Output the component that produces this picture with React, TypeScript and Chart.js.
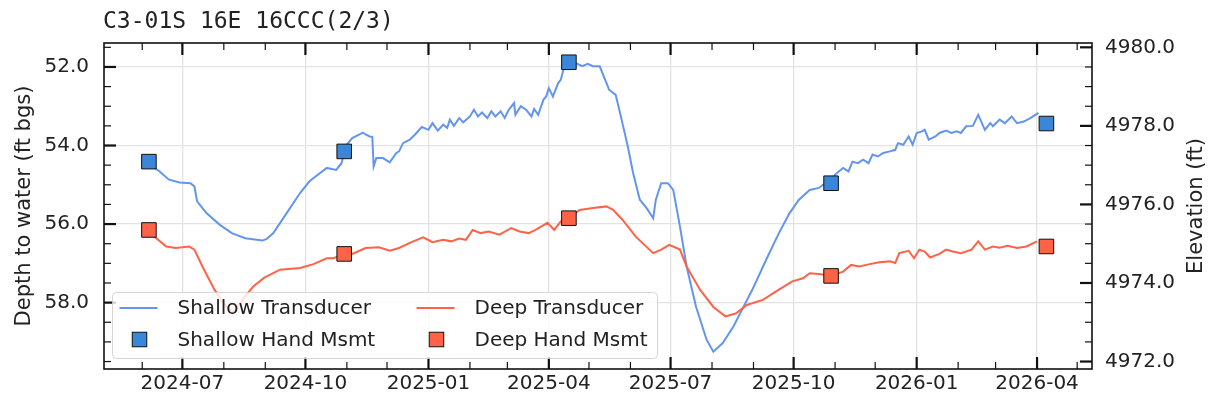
import React, { useEffect, useRef } from 'react';
import { Chart, registerables } from 'chart.js';

Chart.register(...registerables);

const TITLE = 'C3-01S 16E 16CCC(2/3)';
const LEFT_LABEL = 'Depth to water (ft bgs)';
const RIGHT_LABEL = 'Elevation (ft)';

const shallowDates = [
  '2024-06-07','2024-06-14','2024-06-21','2024-06-29','2024-07-07','2024-07-10','2024-07-12','2024-07-19',
  '2024-07-29','2024-08-07','2024-08-17','2024-08-30','2024-09-02','2024-09-07','2024-09-17','2024-09-27',
  '2024-10-04','2024-10-17','2024-10-24','2024-10-28','2024-10-31','2024-11-05','2024-11-13','2024-11-15',
  '2024-11-18','2024-11-20','2024-11-21','2024-11-23','2024-11-28','2024-12-03','2024-12-08','2024-12-10',
  '2024-12-13','2024-12-18','2024-12-22','2024-12-27','2025-01-01','2025-01-04','2025-01-08','2025-01-12',
  '2025-01-15','2025-01-17','2025-01-20','2025-01-24','2025-01-27','2025-02-01','2025-02-04','2025-02-07',
  '2025-02-10','2025-02-14','2025-02-17','2025-02-20','2025-02-24','2025-02-27','2025-03-02','2025-03-06',
  '2025-03-07','2025-03-11','2025-03-15','2025-03-19','2025-03-21','2025-03-24','2025-03-28','2025-03-30',
  '2025-04-01','2025-04-04','2025-04-08','2025-04-10','2025-04-13','2025-04-16','2025-04-21','2025-04-26',
  '2025-04-30','2025-05-04','2025-05-09','2025-05-11','2025-05-15','2025-05-16','2025-05-21','2025-05-26',
  '2025-05-30','2025-06-03','2025-06-08','2025-06-13','2025-06-18','2025-06-20','2025-06-24','2025-06-29',
  '2025-07-03','2025-07-08','2025-07-13','2025-07-20','2025-07-28','2025-08-02','2025-08-09','2025-08-17',
  '2025-08-31','2025-09-11','2025-09-20','2025-09-28','2025-10-05','2025-10-13','2025-10-20','2025-10-23',
  '2025-10-29','2025-11-01','2025-11-07','2025-11-11','2025-11-14','2025-11-18','2025-11-22','2025-11-26',
  '2025-11-29','2025-12-03','2025-12-07','2025-12-12','2025-12-16','2025-12-18','2025-12-22','2025-12-26',
  '2025-12-29','2026-01-01','2026-01-05','2026-01-07','2026-01-10','2026-01-15','2026-01-18','2026-01-23',
  '2026-01-27','2026-01-31','2026-02-03','2026-02-07','2026-02-12','2026-02-16','2026-02-21','2026-02-25',
  '2026-02-27','2026-03-04','2026-03-08','2026-03-13','2026-03-17','2026-03-22','2026-03-27','2026-04-02',
];
const shallowDepth = [
  54.49, 54.66, 54.87, 54.94, 54.96, 55.04, 55.42, 55.72,
  56.02, 56.23, 56.36, 56.42, 56.38, 56.23, 55.72, 55.21,
  54.91, 54.57, 54.62, 54.45, 54.02, 53.81, 53.67, 53.72,
  53.77, 53.78, 54.53, 54.32, 54.32, 54.43, 54.19, 54.15,
  53.94, 53.85, 53.72, 53.53, 53.60, 53.43, 53.62, 53.47,
  53.55, 53.34, 53.50, 53.30, 53.41, 53.26, 53.09, 53.26,
  53.16, 53.30, 53.13, 53.26, 53.13, 53.30, 53.09, 52.92,
  53.22, 53.00, 53.09, 53.26, 53.07, 53.22, 52.83, 52.75,
  52.54, 52.75, 52.41, 52.32, 51.92, 51.90, 51.90, 51.98,
  51.92, 51.98, 51.98, 52.15, 52.49, 52.58, 52.71, 53.43,
  54.02, 54.70, 55.38, 55.59, 55.85, 55.38, 54.96, 54.96,
  55.13, 56.06, 57.08, 58.10, 58.95, 59.25, 59.03, 58.61,
  57.68, 56.87, 56.23, 55.72, 55.38, 55.13, 55.08, 55.00,
  54.96, 54.74, 54.57, 54.66, 54.41, 54.45, 54.36, 54.45,
  54.23, 54.28, 54.19, 54.15, 54.11, 53.94, 53.98, 53.77,
  53.98, 53.68, 53.64, 53.60, 53.85, 53.77, 53.68, 53.62,
  53.68, 53.64, 53.68, 53.51, 53.50, 53.22, 53.60, 53.43,
  53.51, 53.34, 53.43, 53.26, 53.43, 53.39, 53.30, 53.17,
];

const deepDates = [
  '2024-06-07','2024-06-10','2024-06-19','2024-06-26','2024-07-06','2024-07-10','2024-07-16','2024-07-25',
  '2024-07-30','2024-08-05','2024-08-09','2024-08-16','2024-08-23','2024-08-31','2024-09-12','2024-09-27',
  '2024-10-07','2024-10-17','2024-10-22','2024-10-30','2024-11-05','2024-11-15','2024-11-25','2024-12-03',
  '2024-12-10','2024-12-18','2024-12-28','2025-01-04','2025-01-12','2025-01-18','2025-01-24','2025-01-29',
  '2025-02-03','2025-02-09','2025-02-15','2025-02-23','2025-03-04','2025-03-10','2025-03-17','2025-03-22',
  '2025-03-31','2025-04-05','2025-04-11','2025-04-16','2025-04-24','2025-05-04','2025-05-14','2025-05-19',
  '2025-05-26','2025-06-05','2025-06-18','2025-06-24','2025-06-30','2025-07-08','2025-07-13','2025-07-23',
  '2025-08-02','2025-08-11','2025-08-19','2025-08-27','2025-09-08','2025-09-20','2025-09-30','2025-10-08',
  '2025-10-13','2025-10-20','2025-10-29','2025-11-07','2025-11-13','2025-11-19','2025-11-27','2025-12-04',
  '2025-12-12','2025-12-16','2025-12-19','2025-12-26','2025-12-30','2026-01-03','2026-01-07','2026-01-11',
  '2026-01-18','2026-01-23','2026-01-28','2026-02-03','2026-02-11','2026-02-16','2026-02-21','2026-02-27',
  '2026-03-04','2026-03-10','2026-03-17','2026-03-24','2026-04-01',
];
const deepDepth = [
  56.15, 56.32, 56.57, 56.61, 56.57, 56.65, 57.08, 57.67,
  57.93, 58.18, 58.22, 57.88, 57.59, 57.37, 57.16, 57.12,
  57.02, 56.87, 56.87, 56.76, 56.76, 56.61, 56.59, 56.68,
  56.61, 56.48, 56.34, 56.46, 56.40, 56.44, 56.37, 56.40,
  56.15, 56.23, 56.19, 56.27, 56.10, 56.19, 56.23, 56.15,
  55.97, 56.15, 55.89, 55.85, 55.64, 55.59, 55.55, 55.64,
  55.89, 56.32, 56.74, 56.65, 56.53, 56.65, 57.08, 57.67,
  58.11, 58.35, 58.27, 58.06, 57.93, 57.67, 57.46, 57.38,
  57.25, 57.27, 57.32, 57.21, 57.04, 57.08, 57.02, 56.97,
  56.95, 56.99, 56.74, 56.68, 56.87, 56.65, 56.70, 56.85,
  56.76, 56.65, 56.70, 56.74, 56.65, 56.44, 56.65, 56.57,
  56.60, 56.55, 56.61, 56.57, 56.44,
];

const handDates = ['2024-06-06', '2024-10-30', '2025-04-16', '2025-10-29', '2026-04-08'];
const shallowHand = [54.41, 54.15, 51.88, 54.96, 53.44];
const deepHand = [56.15, 56.76, 55.85, 57.32, 56.57];

const xTickLabels = ['2024-07', '2024-10', '2025-01', '2025-04', '2025-07', '2025-10', '2026-01', '2026-04'];
const depthTicks = [52, 54, 56, 58];
const elevTicks = [4972, 4974, 4976, 4978, 4980];

const GROUND_ELEV = 5031.5; // elevation = GROUND_ELEV - depth
const X_MIN = '2024-05-03T10:00:00Z';
const X_MAX = '2026-05-12T02:00:00Z';
const DEPTH_MIN = 51.39;
const DEPTH_MAX = 59.69;

const SHALLOW_LINE = '#6495ED';
const DEEP_LINE = '#FF6347';
const SHALLOW_MARK = '#3A87D9';
const DEEP_MARK = '#FF6347';
const TEXT = '#222222';
const SANS = "'DejaVu Sans', sans-serif";

const ts = (s: string) => Date.parse(s.length === 10 ? s + 'T00:00:00Z' : s);
const pts = (dates: string[], vals: number[]) => dates.map((d, i) => ({ x: ts(d), y: vals[i] }));

const fmtMonth = (v: number) => {
  const d = new Date(v);
  return d.getUTCFullYear() + '-' + String(d.getUTCMonth() + 1).padStart(2, '0');
};

const legendItems = [
  { kind: 'line', color: SHALLOW_LINE, label: 'Shallow Transducer' },
  { kind: 'line', color: DEEP_LINE, label: 'Deep Transducer' },
  { kind: 'mark', color: SHALLOW_MARK, label: 'Shallow Hand Msmt' },
  { kind: 'mark', color: DEEP_MARK, label: 'Deep Hand Msmt' },
];

const decor = {
  id: 'decor',
  afterDatasetsDraw(chart: any) {
    const { ctx, chartArea: a, scales } = chart;
    const xs = scales.x, ys = scales.y, ys1 = scales.y1;
    ctx.save();
    ctx.strokeStyle = '#111';
    ctx.lineCap = 'butt';
    const MAJ = 12, MIN = 7;
    const seg = (x0: number, y0: number, x1: number, y1: number, w: number) => {
      ctx.lineWidth = w;
      ctx.beginPath();
      ctx.moveTo(x0, y0);
      ctx.lineTo(x1, y1);
      ctx.stroke();
    };
    // x ticks (monthly minor, quarterly major), bottom and top, pointing in
    const d0 = new Date(xs.min);
    let yy = d0.getUTCFullYear();
    let mm = d0.getUTCMonth() + 1;
    for (let k = 0; k < 60; k++) {
      if (mm > 11) { mm = 0; yy++; }
      const t = Date.UTC(yy, mm, 1);
      if (t > xs.max) break;
      const px = xs.getPixelForValue(t);
      const major = mm % 3 === 0;
      const len = major ? MAJ : MIN;
      const w = major ? 2.2 : 1.2;
      seg(px, a.bottom, px, a.bottom - len, w);
      seg(px, a.top, px, a.top + len, w);
      mm++;
    }
    // left y ticks
    for (let v = Math.ceil(ys.min * 2) / 2; v <= ys.max + 1e-9; v += 0.5) {
      const py = ys.getPixelForValue(v);
      const major = Math.abs(v % 2) < 1e-6;
      seg(a.left, py, a.left + (major ? MAJ : MIN), py, major ? 2.2 : 1.2);
    }
    // right y ticks
    for (let v = Math.ceil(ys1.min * 2) / 2; v <= ys1.max + 1e-9; v += 0.5) {
      const py = ys1.getPixelForValue(v);
      const major = Math.abs(v % 2) < 1e-6;
      seg(a.right, py, a.right - (major ? MAJ : MIN), py, major ? 2.2 : 1.2);
    }
    // spines
    ctx.lineWidth = 1.6;
    ctx.strokeRect(a.left, a.top, a.right - a.left, a.bottom - a.top);

    // legend
    const bx = a.left + 8.5, by = a.bottom - 76.5, bw = 545, bh = 66, r = 4;
    ctx.beginPath();
    ctx.moveTo(bx + r, by);
    ctx.lineTo(bx + bw - r, by);
    ctx.quadraticCurveTo(bx + bw, by, bx + bw, by + r);
    ctx.lineTo(bx + bw, by + bh - r);
    ctx.quadraticCurveTo(bx + bw, by + bh, bx + bw - r, by + bh);
    ctx.lineTo(bx + r, by + bh);
    ctx.quadraticCurveTo(bx, by + bh, bx, by + bh - r);
    ctx.lineTo(bx, by + r);
    ctx.quadraticCurveTo(bx, by, bx + r, by);
    ctx.closePath();
    ctx.fillStyle = 'rgba(255,255,255,0.8)';
    ctx.fill();
    ctx.lineWidth = 1;
    ctx.strokeStyle = 'rgba(204,204,204,0.8)';
    ctx.stroke();

    ctx.font = '20px ' + SANS;
    ctx.textBaseline = 'middle';
    ctx.textAlign = 'left';
    legendItems.forEach((it, i) => {
      const col = i % 2, row = Math.floor(i / 2);
      const hx = bx + 7 + col * 297;
      const cy = by + (row === 0 ? 15.5 : 47);
      if (it.kind === 'line') {
        ctx.strokeStyle = it.color;
        ctx.lineWidth = 2;
        ctx.beginPath();
        ctx.moveTo(hx, cy);
        ctx.lineTo(hx + 38, cy);
        ctx.stroke();
      } else {
        const s = 14.5;
        ctx.fillStyle = it.color;
        ctx.fillRect(hx + 20 - s / 2, cy - s / 2, s, s);
        ctx.strokeStyle = '#111';
        ctx.lineWidth = 1;
        ctx.strokeRect(hx + 20 - s / 2, cy - s / 2, s, s);
      }
      ctx.fillStyle = TEXT;
      ctx.fillText(it.label, hx + 58, cy + 1);
    });
    ctx.restore();
  },
  afterDraw(chart: any) {
    const { ctx, chartArea: a } = chart;
    ctx.save();
    ctx.fillStyle = TEXT;
    ctx.textAlign = 'left';
    ctx.textBaseline = 'alphabetic';
    ctx.font = "23px 'DejaVu Sans Mono', monospace";
    ctx.fillText(TITLE, a.left - 1, 27.5);

    const cy = (a.top + a.bottom) / 2;
    ctx.font = '21px ' + SANS;
    ctx.textAlign = 'center';
    ctx.save();
    ctx.translate(29.5, cy);
    ctx.rotate(-Math.PI / 2);
    ctx.fillText(LEFT_LABEL, 0, 0);
    ctx.restore();
    ctx.save();
    ctx.translate(1202, cy);
    ctx.rotate(-Math.PI / 2);
    ctx.fillText(RIGHT_LABEL, 0, 0);
    ctx.restore();
    ctx.restore();
  },
};

export default function App() {
  const ref = useRef<HTMLCanvasElement | null>(null);
  useEffect(() => {
    document.body.style.margin = '0';
    const canvas = ref.current;
    if (!canvas) return;
    const tickFont = { family: SANS, size: 20 };
    const chart = new Chart(canvas, {
      type: 'line',
      data: {
        datasets: [
          {
            label: 'Shallow Hand Msmt', data: pts(handDates, shallowHand), yAxisID: 'y', order: 1,
            showLine: false, pointStyle: 'rect', pointRadius: 10.3, pointHoverRadius: 10.3,
            backgroundColor: SHALLOW_MARK, borderColor: '#111', pointBorderWidth: 1, borderWidth: 1,
          },
          {
            label: 'Deep Hand Msmt', data: pts(handDates, deepHand), yAxisID: 'y', order: 1,
            showLine: false, pointStyle: 'rect', pointRadius: 10.3, pointHoverRadius: 10.3,
            backgroundColor: DEEP_MARK, borderColor: '#111', pointBorderWidth: 1, borderWidth: 1,
          },
          {
            label: 'Deep Transducer', data: pts(deepDates, deepDepth), yAxisID: 'y', order: 2,
            borderColor: DEEP_LINE, borderWidth: 2, pointRadius: 0, tension: 0, fill: false,
          },
          {
            label: 'Shallow Transducer', data: pts(shallowDates, shallowDepth), yAxisID: 'y', order: 3,
            borderColor: SHALLOW_LINE, borderWidth: 2, pointRadius: 0, tension: 0, fill: false,
          },
        ],
      },
      options: {
        responsive: false,
        animation: false,
        devicePixelRatio: 1,
        layout: { padding: { top: 43, left: 0, right: 0, bottom: 0 } },
        plugins: { legend: { display: false }, title: { display: false }, tooltip: { enabled: false } },
        events: [],
        scales: {
          x: {
            type: 'linear',
            position: 'bottom',
            min: ts(X_MIN),
            max: ts(X_MAX),
            afterBuildTicks: (s: any) => { s.ticks = xTickLabels.map((l) => ({ value: ts(l + '-01') })); },
            afterFit: (s: any) => { s.height = 37; },
            ticks: { callback: (v: any) => fmtMonth(Number(v)), font: tickFont, color: TEXT, padding: 3, maxRotation: 0, autoSkip: false },
            grid: { color: '#e3e3e3', lineWidth: 1.3, drawTicks: false },
            border: { display: false },
          },
          y: {
            type: 'linear',
            position: 'left',
            reverse: true,
            min: DEPTH_MIN,
            max: DEPTH_MAX,
            afterBuildTicks: (s: any) => { s.ticks = depthTicks.map((v) => ({ value: v })); },
            afterFit: (s: any) => { s.width = 104; },
            ticks: { callback: (v: any) => Number(v).toFixed(1), font: tickFont, color: TEXT, padding: 15 },
            grid: { color: '#e3e3e3', lineWidth: 1.3, drawTicks: false },
            border: { display: false },
          },
          y1: {
            type: 'linear',
            position: 'right',
            min: GROUND_ELEV - DEPTH_MAX,
            max: GROUND_ELEV - DEPTH_MIN,
            afterBuildTicks: (s: any) => { s.ticks = elevTicks.map((v) => ({ value: v })); },
            afterFit: (s: any) => { s.width = 120; },
            ticks: { callback: (v: any) => Number(v).toFixed(1), font: tickFont, color: TEXT, padding: 13 },
            grid: { display: false, drawTicks: false },
            border: { display: false },
          },
        },
      },
      plugins: [decor],
    } as any);
    return () => chart.destroy();
  }, []);
  return (
    <div style={{ position: 'absolute', left: 0, top: 0, width: 1212, height: 406, background: '#fff' }}>
      <canvas ref={ref} width={1212} height={406} style={{ display: 'block' }} />
    </div>
  );
}
